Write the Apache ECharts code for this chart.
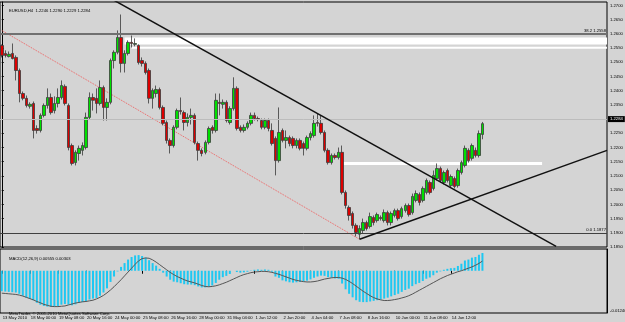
<!DOCTYPE html>
<html>
<head>
<meta charset="utf-8">
<script src="https://cdn.jsdelivr.net/npm/echarts@6/dist/echarts.min.js"></script>
<style>
  html, body { margin: 0; padding: 0; background: #d4d4d4; }
  #chart { width: 625px; height: 322px; }
</style>
</head>
<body>
<div id="chart"></div>
<script>
// EURUSD H4, 138 bars, [open, close, low, high]
const opens = [
  1.2559, 1.2531, 1.2520, 1.2531, 1.2517, 1.2471, 1.2390, 1.2373, 1.2345, 1.2355,
  1.2267, 1.2260, 1.2313, 1.2348, 1.2376, 1.2330, 1.2355, 1.2376, 1.2415, 1.2348,
  1.2207, 1.2147, 1.2179, 1.2190, 1.2200, 1.2306, 1.2376, 1.2373, 1.2355, 1.2411,
  1.2341, 1.2359, 1.2506, 1.2535, 1.2587, 1.2496, 1.2531, 1.2570, 1.2563, 1.2559,
  1.2506, 1.2496, 1.2471, 1.2373, 1.2390, 1.2404, 1.2341, 1.2288, 1.2225, 1.2207,
  1.2271, 1.2330, 1.2323, 1.2288, 1.2306, 1.2313, 1.2214, 1.2190, 1.2183, 1.2218,
  1.2271, 1.2260, 1.2359, 1.2352, 1.2359, 1.2288, 1.2337, 1.2408, 1.2271, 1.2260,
  1.2271, 1.2285, 1.2313, 1.2302, 1.2295, 1.2271, 1.2295, 1.2260, 1.2232, 1.2154,
  1.2260, 1.2225, 1.2235, 1.2232, 1.2207, 1.2225, 1.2214, 1.2197, 1.2235, 1.2242,
  1.2288, 1.2285, 1.2253, 1.2190, 1.2147, 1.2172, 1.2165, 1.2183, 1.2042, 1.1989,
  1.1968, 1.1926, 1.1895, 1.1908, 1.1936, 1.1922, 1.1954, 1.1943, 1.1954, 1.1943,
  1.1971, 1.1936, 1.1961, 1.1978, 1.1957, 1.1978, 1.1996, 1.1971, 1.2014, 1.2035,
  1.2014, 1.2042, 1.2077, 1.2056, 1.2091, 1.2126, 1.2077, 1.2119, 1.2066, 1.2091,
  1.2066, 1.2112, 1.2137, 1.2190, 1.2162, 1.2190, 1.2172, 1.2246
];
const closes = [
  1.2524, 1.2524, 1.2528, 1.2513, 1.2471, 1.2390, 1.2373, 1.2348, 1.2352, 1.2260,
  1.2260, 1.2313, 1.2348, 1.2376, 1.2323, 1.2355, 1.2376, 1.2418, 1.2355, 1.2200,
  1.2144, 1.2183, 1.2197, 1.2207, 1.2306, 1.2376, 1.2366, 1.2355, 1.2411, 1.2341,
  1.2359, 1.2506, 1.2535, 1.2587, 1.2496, 1.2531, 1.2570, 1.2566, 1.2566, 1.2499,
  1.2496, 1.2464, 1.2373, 1.2401, 1.2404, 1.2341, 1.2285, 1.2225, 1.2207, 1.2271,
  1.2330, 1.2327, 1.2288, 1.2306, 1.2313, 1.2218, 1.2190, 1.2179, 1.2218, 1.2267,
  1.2260, 1.2366, 1.2355, 1.2359, 1.2295, 1.2337, 1.2408, 1.2267, 1.2260, 1.2271,
  1.2285, 1.2313, 1.2302, 1.2299, 1.2271, 1.2295, 1.2267, 1.2214, 1.2154, 1.2253,
  1.2225, 1.2235, 1.2214, 1.2207, 1.2225, 1.2197, 1.2197, 1.2235, 1.2249, 1.2285,
  1.2285, 1.2253, 1.2190, 1.2147, 1.2172, 1.2165, 1.2183, 1.2042, 1.1996, 1.1961,
  1.1926, 1.1901, 1.1915, 1.1936, 1.1915, 1.1957, 1.1936, 1.1964, 1.1950, 1.1971,
  1.1936, 1.1968, 1.1978, 1.1950, 1.1985, 1.1996, 1.1964, 1.2028, 1.2038, 1.2007,
  1.2056, 1.2084, 1.2042, 1.2102, 1.2126, 1.2084, 1.2112, 1.2084, 1.2098, 1.2063,
  1.2119, 1.2147, 1.2197, 1.2154, 1.2207, 1.2172, 1.2249, 1.2284
];
const lows = [
  1.2517, 1.2517, 1.2517, 1.2510, 1.2436, 1.2359, 1.2366, 1.2341, 1.2337, 1.2232,
  1.2249, 1.2253, 1.2306, 1.2337, 1.2316, 1.2320, 1.2341, 1.2369, 1.2348, 1.2190,
  1.2137, 1.2137, 1.2154, 1.2172, 1.2193, 1.2299, 1.2330, 1.2320, 1.2348, 1.2295,
  1.2295, 1.2352, 1.2478, 1.2528, 1.2464, 1.2464, 1.2524, 1.2552, 1.2556, 1.2492,
  1.2485, 1.2457, 1.2355, 1.2337, 1.2376, 1.2334, 1.2278, 1.2214, 1.2179, 1.2200,
  1.2264, 1.2316, 1.2260, 1.2274, 1.2281, 1.2211, 1.2154, 1.2169, 1.2176, 1.2211,
  1.2249, 1.2253, 1.2313, 1.2337, 1.2288, 1.2281, 1.2330, 1.2260, 1.2253, 1.2253,
  1.2264, 1.2278, 1.2295, 1.2292, 1.2264, 1.2264, 1.2257, 1.2207, 1.2102, 1.2147,
  1.2218, 1.2197, 1.2204, 1.2197, 1.2197, 1.2190, 1.2172, 1.2190, 1.2225, 1.2235,
  1.2274, 1.2246, 1.2183, 1.2140, 1.2140, 1.2158, 1.2158, 1.2035, 1.1985, 1.1943,
  1.1915, 1.1887, 1.1877, 1.1897, 1.1908, 1.1915, 1.1926, 1.1936, 1.1943, 1.1936,
  1.1926, 1.1926, 1.1954, 1.1943, 1.1950, 1.1971, 1.1957, 1.1964, 1.2007, 1.1996,
  1.2007, 1.2035, 1.2035, 1.2049, 1.2084, 1.2077, 1.2070, 1.2077, 1.2059, 1.2056,
  1.2059, 1.2105, 1.2130, 1.2147, 1.2154, 1.2165, 1.2165, 1.2229
];
const highs = [
  1.2563, 1.2542, 1.2538, 1.2566, 1.2524, 1.2478, 1.2397, 1.2383, 1.2359, 1.2362,
  1.2278, 1.2320, 1.2355, 1.2408, 1.2390, 1.2380, 1.2408, 1.2436, 1.2422, 1.2355,
  1.2214, 1.2190, 1.2207, 1.2218, 1.2323, 1.2394, 1.2390, 1.2408, 1.2436, 1.2418,
  1.2373, 1.2513, 1.2542, 1.2612, 1.2668, 1.2542, 1.2577, 1.2594, 1.2584, 1.2563,
  1.2517, 1.2503, 1.2478, 1.2408, 1.2418, 1.2411, 1.2348, 1.2295, 1.2232, 1.2278,
  1.2337, 1.2376, 1.2330, 1.2320, 1.2337, 1.2320, 1.2221, 1.2197, 1.2225, 1.2274,
  1.2278, 1.2390, 1.2390, 1.2369, 1.2366, 1.2345, 1.2447, 1.2415, 1.2278, 1.2281,
  1.2292, 1.2323, 1.2323, 1.2309, 1.2302, 1.2302, 1.2302, 1.2285, 1.2239, 1.2341,
  1.2267, 1.2260, 1.2242, 1.2239, 1.2232, 1.2232, 1.2221, 1.2242, 1.2257, 1.2313,
  1.2320, 1.2313, 1.2260, 1.2197, 1.2179, 1.2179, 1.2200, 1.2207, 1.2049, 1.1996,
  1.1975, 1.1933, 1.1926, 1.1950, 1.1943, 1.1971, 1.1961, 1.1971, 1.1961, 1.1982,
  1.1978, 1.1975, 1.1985, 1.1985, 1.1992, 1.2003, 1.2003, 1.2038, 1.2049, 1.2042,
  1.2063, 1.2091, 1.2084, 1.2119, 1.2144, 1.2133, 1.2119, 1.2126, 1.2105, 1.2098,
  1.2126, 1.2154, 1.2207, 1.2197, 1.2214, 1.2200, 1.2260, 1.2290
];

// MACD(12,26,9): main as histogram, signal as line
const macdMain = [
  -0.0064, -0.0065, -0.0066, -0.0067, -0.0068, -0.0072, -0.0078, -0.0084, -0.0088, -0.0092,
  -0.0100, -0.0106, -0.0110, -0.0112, -0.0113, -0.0112, -0.0110, -0.0106, -0.0104, -0.0106,
  -0.0108, -0.0105, -0.0100, -0.0098, -0.0095, -0.0090, -0.0087, -0.0085, -0.0078, -0.0068,
  -0.0055, -0.0035, -0.0018, -0.0002, 0.0012, 0.0024, 0.0035, 0.0043, 0.0048, 0.0049,
  0.0046, 0.0041, 0.0033, 0.0024, 0.0016, 0.0006, -0.0006, -0.0018, -0.0028, -0.0034,
  -0.0036, -0.0039, -0.0042, -0.0043, -0.0043, -0.0045, -0.0049, -0.0052, -0.0052, -0.0050,
  -0.0046, -0.0038, -0.0028, -0.0020, -0.0016, -0.0010, 0.0000, -0.0004, -0.0006, -0.0005,
  -0.0003, 0.0001, 0.0003, 0.0004, 0.0003, 0.0004, 0.0003, -0.0003, -0.0018, -0.0022,
  -0.0030, -0.0033, -0.0036, -0.0037, -0.0036, -0.0035, -0.0034, -0.0031, -0.0027, -0.0022,
  -0.0018, -0.0015, -0.0016, -0.0020, -0.0022, -0.0024, -0.0025, -0.0040, -0.0058, -0.0072,
  -0.0083, -0.0092, -0.0097, -0.0098, -0.0098, -0.0096, -0.0094, -0.0092, -0.0090, -0.0087,
  -0.0084, -0.0080, -0.0076, -0.0072, -0.0066, -0.0060, -0.0056, -0.0048, -0.0042, -0.0038,
  -0.0032, -0.0025, -0.0021, -0.0014, -0.0006, -0.0002, 0.0003, 0.0006, 0.0008, 0.0009,
  0.0015, 0.0022, 0.0032, 0.0035, 0.0041, 0.0043, 0.0050, 0.00555
];
const macdSignal = [
  -0.0070, -0.0071, -0.0072, -0.0073, -0.0074, -0.0076, -0.0079, -0.0083, -0.0087, -0.0091,
  -0.0096, -0.0100, -0.0105, -0.0108, -0.0111, -0.0112, -0.0112, -0.0111, -0.0110, -0.0107,
  -0.0104, -0.0101, -0.0099, -0.0097, -0.0096, -0.0094, -0.0092, -0.0088, -0.0083, -0.0077,
  -0.0069, -0.0060, -0.0050, -0.0039, -0.0028, -0.0016, -0.0004, 0.0008, 0.0020, 0.0031,
  0.0038, 0.0040, 0.0039, 0.0034, 0.0027, 0.0019, 0.0011, 0.0003, -0.0005, -0.0012,
  -0.0018, -0.0023, -0.0028, -0.0032, -0.0035, -0.0038, -0.0042, -0.0046, -0.0049, -0.0050,
  -0.0049, -0.0047, -0.0044, -0.0040, -0.0036, -0.0031, -0.0026, -0.0021, -0.0016, -0.0012,
  -0.0009, -0.0006, -0.0004, -0.0003, -0.0002, -0.0002, -0.0003, -0.0005, -0.0008, -0.0011,
  -0.0015, -0.0019, -0.0023, -0.0027, -0.0030, -0.0032, -0.0034, -0.0035, -0.0035, -0.0034,
  -0.0032, -0.0029, -0.0026, -0.0024, -0.0022, -0.0021, -0.0021, -0.0023, -0.0027, -0.0033,
  -0.0040, -0.0048, -0.0056, -0.0064, -0.0071, -0.0078, -0.0084, -0.0088, -0.0091, -0.0093,
  -0.0093, -0.0092, -0.0090, -0.0088, -0.0085, -0.0082, -0.0078, -0.0073, -0.0067, -0.0061,
  -0.0055, -0.0049, -0.0043, -0.0037, -0.0031, -0.0025, -0.0020, -0.0015, -0.0011, -0.0007,
  -0.0003, 0.0000, 0.0004, 0.0008, 0.0012, 0.0017, 0.0023, 0.00303
];

// time labels, one every 8 bars
const timeLabels = [
  '13 May 2010', '18 May 00:00', '19 May 08:00', '20 May 16:00', '24 May 00:00',
  '25 May 08:00', '26 May 16:00', '28 May 00:00', '31 May 04:00', '1 Jun 12:00',
  '2 Jun 20:00', '4 Jun 04:00', '7 Jun 08:00', '8 Jun 16:00', '10 Jun 00:00',
  '11 Jun 08:00', '14 Jun 12:00'
];
const LABEL_STEP = 8;
const SLOTS = 173; // bars plus the empty shift on the right

const priceTicks = [
  1.2700, 1.2650, 1.2600, 1.2550, 1.2500, 1.2450, 1.2400, 1.2350, 1.2300,
  1.2250, 1.2200, 1.2150, 1.2100, 1.2050, 1.2000, 1.1950, 1.1900, 1.1850
];
const macdTicks = [-0.0124];

// drawing objects: [bar index, price]
const trendDown = [[32, 1.2718], [158, 1.1852]];
const trendUp = [[102, 1.1877], [172.5, 1.2190]];
const channelDotted = [[0, 1.2612], [102, 1.1877]];
const whiteBand = [[35, 1.2575], [172.5, 1.2575]];
const whiteLineTop = [[37, 1.2551], [172.5, 1.2551]];
const whiteLineMid = [[97, 1.2144], [154, 1.2144]];
const fib382 = 1.2558;
const fib0 = 1.1877;
const bid = 1.2284;

const FONT = 'Liberation Sans';
const SMALL = 4.2;
const GREEN = '#00e000';
const RED = '#dd0000';
const HIST = '#1ec8f2';

const slots = [];
for (let i = 0; i < SLOTS; i++) slots.push(i);
const candles = opens.map((o, i) => [o, closes[i], lows[i], highs[i]]);

const chart = echarts.init(document.getElementById('chart'));

const lineSeries = (data, color, width, type, z) => ({
  type: 'line',
  xAxisIndex: 2,
  yAxisIndex: 0,
  data: data,
  showSymbol: false,
  symbol: 'none',
  silent: true,
  z: z,
  lineStyle: { color: color, width: width, type: type }
});

const smallText = { fontSize: SMALL, fontWeight: 'normal', color: '#000', fontFamily: FONT };
const showTimeLabel = (i) => i % LABEL_STEP === 0 && i / LABEL_STEP < timeLabels.length;

chart.setOption({
  animation: false,
  backgroundColor: '#d4d4d4',
  textStyle: { fontFamily: FONT },
  title: [
    { text: 'EURUSD,H4  1.2246 1.2290 1.2229 1.2284', left: 4, top: 4, textStyle: smallText },
    { text: 'MACD(12,26,9) 0.00555 0.00303', left: 4, top: 252, textStyle: smallText },
    { text: 'MetaTrader, \u00a9 2001-2010 MetaQuotes Software Corp.', left: 4, top: 307, textStyle: smallText }
  ],
  grid: [
    {
      left: 0, top: 2, width: 607, height: 245, outerBoundsMode: 'none',
      show: true, borderColor: '#000', borderWidth: 1, backgroundColor: 'transparent'
    },
    {
      left: 0, top: 249, width: 607, height: 64, outerBoundsMode: 'none',
      show: true, borderColor: '#000', borderWidth: 1, backgroundColor: 'transparent'
    }
  ],
  xAxis: [
    {
      gridIndex: 0, type: 'category', data: slots, boundaryGap: true,
      axisLine: { show: false }, axisTick: { show: false }, axisLabel: { show: false }, splitLine: { show: false }
    },
    {
      gridIndex: 1, type: 'category', data: slots, boundaryGap: true,
      axisLine: { show: false },
      axisTick: { show: true, length: 3, alignWithLabel: true, interval: showTimeLabel, lineStyle: { color: '#000' } },
      axisLabel: {
        interval: showTimeLabel,
        showMinLabel: true,
        hideOverlap: false,
        formatter: (v, i) => timeLabels[i / LABEL_STEP] || '',
        fontSize: SMALL, color: '#000', align: 'left', margin: 3, padding: [0, 0, 0, 1], fontFamily: FONT
      },
      splitLine: { show: false }
    },
    { gridIndex: 0, type: 'value', min: -0.5, max: SLOTS - 0.5, show: false }
  ],
  yAxis: [
    {
      gridIndex: 0, type: 'value', position: 'right', min: 1.1850, max: 1.2712,
      axisLine: { show: true, lineStyle: { color: '#000' } },
      axisTick: { show: true, length: 2, customValues: priceTicks, lineStyle: { color: '#000' } },
      axisLabel: { customValues: priceTicks, formatter: (v) => v.toFixed(4), fontSize: SMALL, color: '#000', margin: 3, fontFamily: FONT },
      splitLine: { show: false }
    },
    {
      gridIndex: 1, type: 'value', position: 'right', min: -0.0132, max: 0.0068,
      axisLine: { show: true, lineStyle: { color: '#000' } },
      axisTick: { show: false },
      axisLabel: { customValues: macdTicks, formatter: (v) => v.toFixed(5), fontSize: SMALL, color: '#000', margin: 3, fontFamily: FONT },
      splitLine: { show: false }
    }
  ],
  series: [
    lineSeries(whiteBand, '#ffffff', 7, 'solid', 1),
    lineSeries(whiteLineTop, '#ffffff', 2, 'solid', 1),
    lineSeries(whiteLineMid, '#ffffff', 3, 'solid', 1),
    lineSeries(channelDotted, '#f06060', 1, 'dotted', 2),
    lineSeries(trendDown, '#111111', 1.5, 'solid', 6),
    lineSeries(trendUp, '#111111', 1.5, 'solid', 6),
    {
      type: 'candlestick',
      xAxisIndex: 0, yAxisIndex: 0,
      data: candles,
      barWidth: 3,
      z: 4,
      itemStyle: {
        color: GREEN, color0: RED,
        borderColor: '#3a3a3a', borderColor0: '#3a3a3a', borderWidth: 0.8
      },
      markLine: {
        silent: true, symbol: 'none', animation: false,
        data: [
          {
            yAxis: fib382,
            lineStyle: { color: '#707070', width: 2, type: 'solid' },
            label: { show: true, position: 'insideEndTop', formatter: '38.2 ' + fib382.toFixed(4), fontSize: SMALL, color: '#000', distance: 1, fontFamily: FONT }
          },
          {
            yAxis: fib0,
            lineStyle: { color: '#404040', width: 1, type: 'solid' },
            label: { show: true, position: 'insideEndTop', formatter: '0.0 ' + fib0.toFixed(4), fontSize: SMALL, color: '#000', distance: 1, fontFamily: FONT }
          },
          {
            yAxis: bid,
            lineStyle: { color: '#bcbcbc', width: 1, type: 'solid' },
            label: { show: true, position: 'end', formatter: bid.toFixed(4), fontSize: SMALL, color: '#fff', backgroundColor: '#000', padding: [1, 2], distance: 1, fontFamily: FONT }
          }
        ]
      }
    },
    {
      type: 'bar',
      xAxisIndex: 1, yAxisIndex: 1,
      data: macdMain,
      barWidth: 2,
      itemStyle: { color: HIST }
    },
    {
      type: 'line',
      xAxisIndex: 1, yAxisIndex: 1,
      data: macdSignal,
      showSymbol: false, symbol: 'none',
      lineStyle: { color: '#555555', width: 1 },
      z: 5
    }
  ]
});
</script>
</body>
</html>
